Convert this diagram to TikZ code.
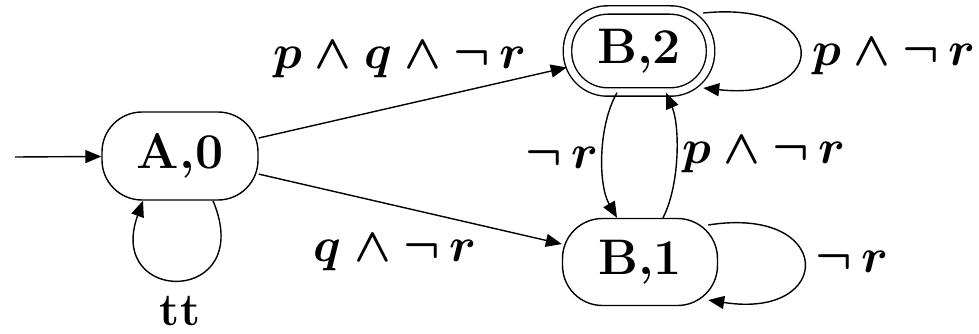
\documentclass[tikz,border=0pt]{standalone}
\usepackage{graphicx}
\usetikzlibrary{arrows.meta}
\newcommand{\biglbl}[1]{\scalebox{1.93}{\fontsize{24.88}{30}\selectfont\boldmath$#1$}}
\begin{document}
\begin{tikzpicture}[x=1pt,y=-1pt, line width=1.4pt,
  state/.style={draw, rectangle, rounded corners=40pt, minimum width=156pt, minimum height=88pt, font=\fontsize{50}{60}\selectfont\bfseries, inner sep=0pt},
  lbl/.style={inner sep=0pt},
  arr/.style={-{Triangle[length=16pt,width=13pt]}}]
\useasboundingbox (0,0) rectangle (979,334);
\node[state] (A) at (180,156) {A,0};
\node[state, double, double distance=7pt, minimum width=143pt, minimum height=82pt] (B2) at (639,51) {B,2};
\node[state, minimum width=155pt, minimum height=87pt] (B1) at (640,262) {B,1};
\coordinate (s) at (15,157);
\draw[arr] (s) -- (A);
\draw[arr] (A) -- (B2);
\draw[arr] (A) -- (B1);
\draw[arr] ([xshift=33pt]A.south) .. controls +(44,105) and +(-38,105) .. ([xshift=-37pt]A.south);
\draw[arr] ([xshift=-8pt,yshift=38pt]B2.east) .. controls +(128,-13) and +(128,14) .. ([xshift=-8pt,yshift=-37pt]B2.east);
\draw[arr] ([xshift=-10pt,yshift=37pt]B1.east) .. controls +(127,-20) and +(127,20) .. ([xshift=-10pt,yshift=-38pt]B1.east);
\draw[arr] ([xshift=-22pt]B2.south) .. controls +(-19,33) and +(-19,-33) .. ([xshift=-23pt]B1.north);
\draw[arr] ([xshift=23pt]B1.north) .. controls +(17,-33) and +(14,33) .. ([xshift=27pt]B2.south);
\node[lbl] (l1) at (400,60) {\biglbl{p\wedge q\wedge\neg\,r}};
\node[lbl] (l2) at (395,253) {\biglbl{q\wedge\neg\,r}};
\node[lbl] (l3) at (562,158) {\biglbl{\neg\,r}};
\node[lbl] (l4) at (764,155) {\biglbl{p\wedge\neg\,r}};
\node[lbl] (l5) at (894,57) {\biglbl{p\wedge\neg\,r}};
\node[lbl] (l6) at (852,262) {\biglbl{\neg\,r}};
\node[font=\fontsize{46}{54}\selectfont\bfseries, inner sep=0pt] (tt) at (180,311) {tt};
\end{tikzpicture}
\end{document}
